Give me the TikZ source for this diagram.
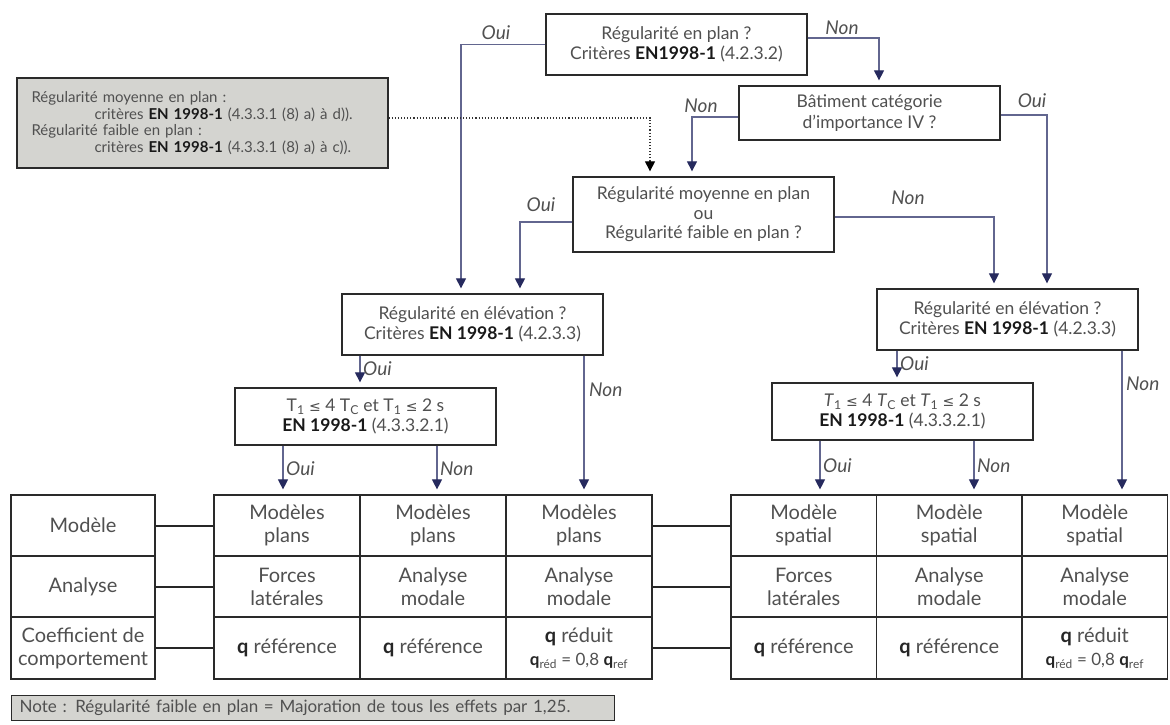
\documentclass[tikz,border=0pt]{standalone}
\usepackage{fontspec}
\setmainfont{Lato}
\newfontfamily\dejavu{DejaVu Sans}
\usetikzlibrary{arrows.meta}
\definecolor{txt}{HTML}{505050}
\definecolor{bord}{HTML}{2A2A2A}
\definecolor{flowc}{HTML}{62668F}
\definecolor{tipc}{HTML}{262A5E}
\definecolor{greyc}{HTML}{D4D4D0}
\newcommand\bfx[1]{\textbf{\color{black!90}#1}}
\newcommand\lesym{{\dejavu\fontsize{14}{14}\selectfont ≤}}
\newcommand\qb{{\bfseries\color{black!85}q}}
\begin{document}
\begin{tikzpicture}[x=1pt,y=-1pt,
  box/.style={draw=bord,line width=1.3pt,minimum width=261pt,align=center,inner sep=0pt,fill=white,text=txt,font=\fontsize{17.5}{20.5}\selectfont},
  gbox/.style={draw=bord,line width=1.3pt,fill=greyc,minimum width=371pt,minimum height=90pt,text width=342pt,align=left,inner sep=0pt,text=txt,font=\fontsize{15}{16.5}\selectfont},
  flow/.style={draw=flowc,line width=1.1pt,shorten >=5pt,-{Triangle[width=10pt,length=10pt,color=tipc]}},
  dotflow/.style={draw=black!80,dotted,line width=1.1pt,shorten >=5pt,-{Triangle[width=10pt,length=10pt,color=black]}},
  lab/.style={font=\fontsize{19}{19}\selectfont\itshape,text=txt,inner sep=1pt},
  cell/.style={draw=bord,line width=1.2pt,minimum width=146pt,minimum height=61pt,align=center,inner sep=0pt,text=txt,font=\fontsize{20}{23}\selectfont},
  link/.style={line width=2pt,draw=black!85},
  notebox/.style={draw=bord,line width=1.2pt,fill=greyc,minimum height=25pt,text width=587pt,align=left,inner xsep=8pt,inner ysep=0pt,text=txt,font=\fontsize{17}{17}\selectfont}
]
\useasboundingbox (0,0) rectangle (1170,724);
\fill[white] (0,0) rectangle (1170,724);

% guide coordinates for vertical connectors
\foreach \xx in {283,360,437,461,520,584,650,692,820,879,897,974,994,1047,1122}
  \coordinate (x\xx) at (\xx,0);

% decision boxes
\node[box,minimum height=61pt] (A) at (676.5,44.5) {Régularité en plan ?\\Critères \bfx{EN1998-1} (4.2.3.2)};
\node[box,minimum height=54pt] (B) at (869.5,113) {Bâtiment catégorie\\d’importance IV ?};
\node[gbox] (G) at (202.5,123) {Régularité moyenne en plan :\\\hspace*{63pt}critères \bfx{EN 1998-1} (4.3.3.1 (8) a) à d)).\\Régularité faible en plan :\\\hspace*{63pt}critères \bfx{EN 1998-1} (4.3.3.1 (8) a) à c)).};
\node[box,minimum height=75pt,font=\fontsize{17.5}{19.5}\selectfont] (M) at (703.5,214.5) {Régularité moyenne en plan\\ou\\Régularité faible en plan ?};
\node[box,minimum height=61pt] (EL) at (472.5,324.5) {Régularité en élévation ?\\Critères \bfx{EN 1998-1} (4.2.3.3)};
\node[box,minimum height=61pt] (ER) at (1007.5,319.5) {Régularité en élévation ?\\Critères \bfx{EN 1998-1} (4.2.3.3)};
\node[box,minimum height=57pt] (TL) at (365.5,416.5) {T\textsubscript{1} \lesym{} 4 T\textsubscript{C} et T\textsubscript{1} \lesym{} 2 s\\\bfx{EN 1998-1} (4.3.3.2.1)};
\node[box,minimum height=57pt] (TR) at (902.5,411.5) {\textit{T}\textsubscript{1} \lesym{} 4 \textit{T}\textsubscript{C} et \textit{T}\textsubscript{1} \lesym{} 2 s\\\bfx{EN 1998-1} (4.3.3.2.1)};

% table: label column
\node[cell,minimum width=144pt] (Km) at (83,525.5) {Modèle};
\node[cell,minimum width=144pt] (Ka) at (83,586.5) {Analyse};
\node[cell,minimum width=144pt,minimum height=62pt] (Kq) at (83,648) {Coefficient de\\comportement};
% left block
\node[cell] (L1m) at (287,525.5) {Modèles\\plans};
\node[cell] (L2m) at (433,525.5) {Modèles\\plans};
\node[cell] (L3m) at (579,525.5) {Modèles\\plans};
\node[cell] (L1a) at (287,586.5) {Forces\\latérales};
\node[cell] (L2a) at (433,586.5) {Analyse\\modale};
\node[cell] (L3a) at (579,586.5) {Analyse\\modale};
\node[cell,minimum height=62pt] (L1q) at (287,648) {\qb{} référence};
\node[cell,minimum height=62pt] (L2q) at (433,648) {\qb{} référence};
\node[cell,minimum height=62pt] (L3q) at (579,648) {\qb{} réduit\\{\fontsize{17}{20}\selectfont\qb\textsubscript{réd} = 0,8 \qb\textsubscript{ref}}};
% right block
\node[cell,minimum width=145.5pt] (R1m) at (803.75,525.5) {Modèle\\spatial};
\node[cell,minimum width=145.5pt] (R2m) at (949.25,525.5) {Modèle\\spatial};
\node[cell,minimum width=145.5pt] (R3m) at (1094.75,525.5) {Modèle\\spatial};
\node[cell,minimum width=145.5pt] (R1a) at (803.75,586.5) {Forces\\latérales};
\node[cell,minimum width=145.5pt] (R2a) at (949.25,586.5) {Analyse\\modale};
\node[cell,minimum width=145.5pt] (R3a) at (1094.75,586.5) {Analyse\\modale};
\node[cell,minimum width=145.5pt,minimum height=62pt] (R1q) at (803.75,648) {\qb{} référence};
\node[cell,minimum width=145.5pt,minimum height=62pt] (R2q) at (949.25,648) {\qb{} référence};
\node[cell,minimum width=145.5pt,minimum height=62pt] (R3q) at (1094.75,648) {\qb{} réduit\\{\fontsize{17}{20}\selectfont\qb\textsubscript{réd} = 0,8 \qb\textsubscript{ref}}};

% table links
\draw[link] (Km.east) -- (L1m.west);
\draw[link] (Ka.east) -- (L1a.west);
\draw[link] (Kq.east) -- (L1q.west);
\draw[link] (L3m.east) -- (R1m.west);
\draw[link] (L3a.east) -- (R1a.west);
\draw[link] (L3q.east) -- (R1q.west);

% note
\node[notebox,anchor=west] (N) at (11,708) {Note : Régularité faible en plan = Majoration de tous les effets par 1,25.};

% flow connectors
\draw[flow] (A.west) -| (EL.north -| x461);
\draw[flow] ([yshift=-7.5pt]M.west) -| (EL.north -| x520);
\draw[flow] ([yshift=6.5pt]A.east) -| (B.north -| x879);
\draw[flow] ([yshift=-4pt]B.west) -| (M.north -| x692);
\draw[flow] ([yshift=-2pt]B.east) -| (ER.north -| x1047);
\draw[flow] ([yshift=-2.5pt]M.east) -| (ER.north -| x994);
\draw[dotflow] ([yshift=5pt]G.east) -| (M.north -| x650);
\draw[flow] (EL.south -| x360) -- (TL.north -| x360);
\draw[flow] (EL.south -| x584) -- (L3m.north -| x584);
\draw[flow] (TL.south -| x283) -- (L1m.north -| x283);
\draw[flow] (TL.south -| x437) -- (L2m.north -| x437);
\draw[flow] (ER.south -| x897) -- (TR.north -| x897);
\draw[flow] (ER.south -| x1122) -- (R3m.north -| x1122);
\draw[flow] (TR.south -| x820) -- (R1m.north -| x820);
\draw[flow] (TR.south -| x974) -- (R2m.north -| x974);

% labels
\node[lab] (o1) at (496,33) {Oui};
\node[lab] (n1) at (842,28) {Non};
\node[lab] (n2) at (701,106) {Non};
\node[lab] (o2) at (1032,101) {Oui};
\node[lab] (o3) at (541,205) {Oui};
\node[lab] (n3) at (908,198) {Non};
\node[lab,anchor=west] (o4) at (362,369) {Oui};
\node[lab,anchor=west] (n4) at (588,390) {Non};
\node[lab,anchor=west] (o5) at (899,364) {Oui};
\node[lab,anchor=west] (n5) at (1125,384) {Non};
\node[lab,anchor=west] (o6) at (285,469) {Oui};
\node[lab,anchor=west] (n6) at (439,469) {Non};
\node[lab,anchor=west] (o7) at (822,466) {Oui};
\node[lab,anchor=west] (n7) at (976,466) {Non};
\end{tikzpicture}
\end{document}
